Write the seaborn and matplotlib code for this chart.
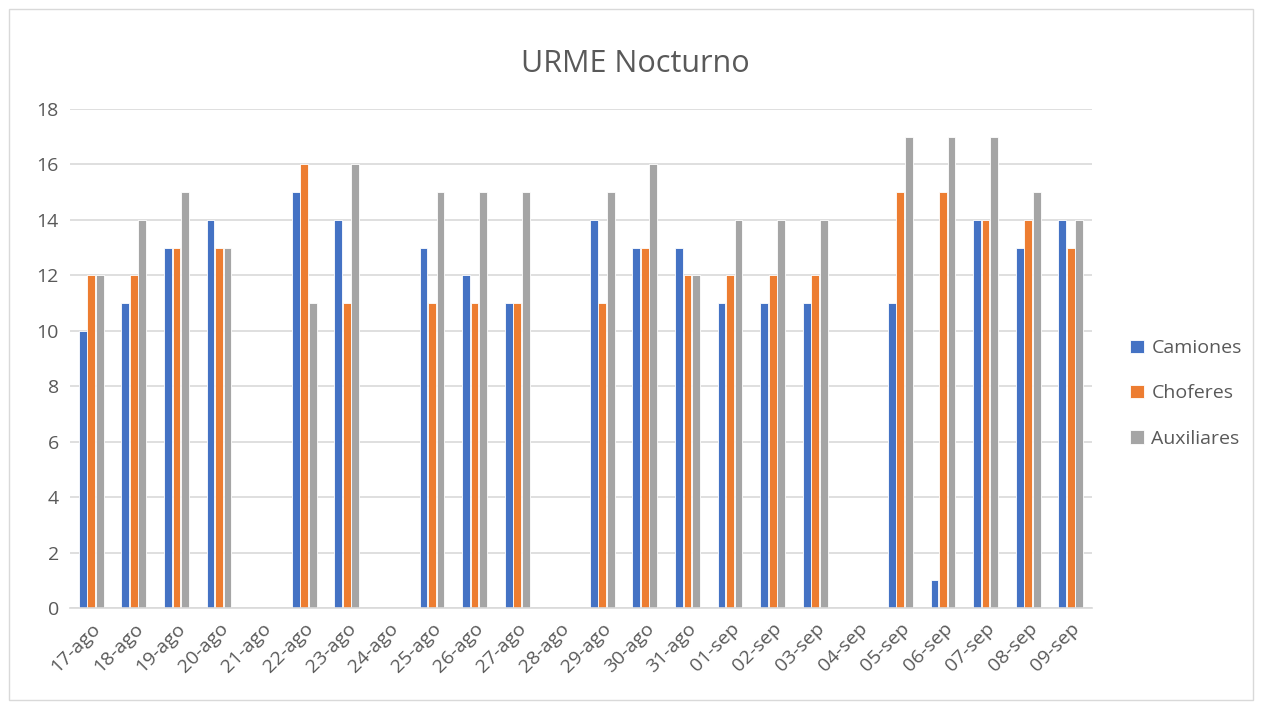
import pandas as pd
import matplotlib.pyplot as plt
import seaborn as sns
from matplotlib.patches import Rectangle

# Data
fechas = ['17-ago', '18-ago', '19-ago', '20-ago', '21-ago', '22-ago', '23-ago', '24-ago',
          '25-ago', '26-ago', '27-ago', '28-ago', '29-ago', '30-ago', '31-ago', '01-sep',
          '02-sep', '03-sep', '04-sep', '05-sep', '06-sep', '07-sep', '08-sep', '09-sep']
camiones = [10, 11, 13, 14, 0, 15, 14, 0, 13, 12, 11, 0, 14, 13, 13, 11, 11, 11, 0, 11, 1, 14, 13, 14]
choferes = [12, 12, 13, 13, 0, 16, 11, 0, 11, 11, 11, 0, 11, 13, 12, 12, 12, 12, 0, 15, 15, 14, 14, 13]
auxiliares = [12, 14, 15, 13, 0, 11, 16, 0, 15, 15, 15, 0, 15, 16, 12, 14, 14, 14, 0, 17, 17, 17, 15, 14]
series = ['Camiones', 'Choferes', 'Auxiliares']
colores = ['#4472C4', '#ED7D31', '#A5A5A5']

df = pd.DataFrame({'fecha': fechas, 'Camiones': camiones,
                   'Choferes': choferes, 'Auxiliares': auxiliares})
df = df.melt(id_vars='fecha', var_name='serie', value_name='valor')

sns.set_theme(style='white')
plt.rcParams['font.family'] = ['Open Sans', 'DejaVu Sans']

fig = plt.figure(figsize=(12.62, 7.04), dpi=100)
ax = fig.add_axes([70 / 1262, 96 / 704, 1022 / 1262, 499 / 704])

sns.barplot(data=df, x='fecha', y='valor', hue='serie', hue_order=series,
            palette=colores, saturation=1, width=0.6, gap=0.08, ax=ax,
            edgecolor='white', linewidth=0.6)

ax.set_ylim(0, 18)
ax.set_xlim(-0.5, len(fechas) - 0.5)
ax.set_yticks(range(0, 19, 2))
ax.yaxis.grid(True, color='#D9D9D9', linewidth=1.2)
ax.set_axisbelow(True)
for s in ['top', 'right', 'left']:
    ax.spines[s].set_visible(False)
ax.spines['bottom'].set_color('#D9D9D9')
ax.spines['bottom'].set_linewidth(1.2)
ax.tick_params(axis='both', length=0, colors='#595959', labelsize=14, pad=8)
plt.setp(ax.get_xticklabels(), rotation=45, ha='right', rotation_mode='anchor')
ax.set_xlabel('')
ax.set_ylabel('')

fig.text(635 / 1262, 1 - 64 / 704, 'URME Nocturno', ha='center', va='center',
         fontsize=22, color='#595959')

ax.legend(loc='center left', bbox_to_anchor=(1.02, 0.43), frameon=False,
          fontsize=14, labelcolor='#595959', handlelength=0.7, handleheight=0.7,
          labelspacing=1.4, handletextpad=0.4)

fig.patches.append(Rectangle((9 / 1262, 4 / 704), 1244 / 1262, 691 / 704,
                             transform=fig.transFigure, fill=False,
                             edgecolor='#D9D9D9', linewidth=1))

fig.savefig('out.png', dpi=100)
